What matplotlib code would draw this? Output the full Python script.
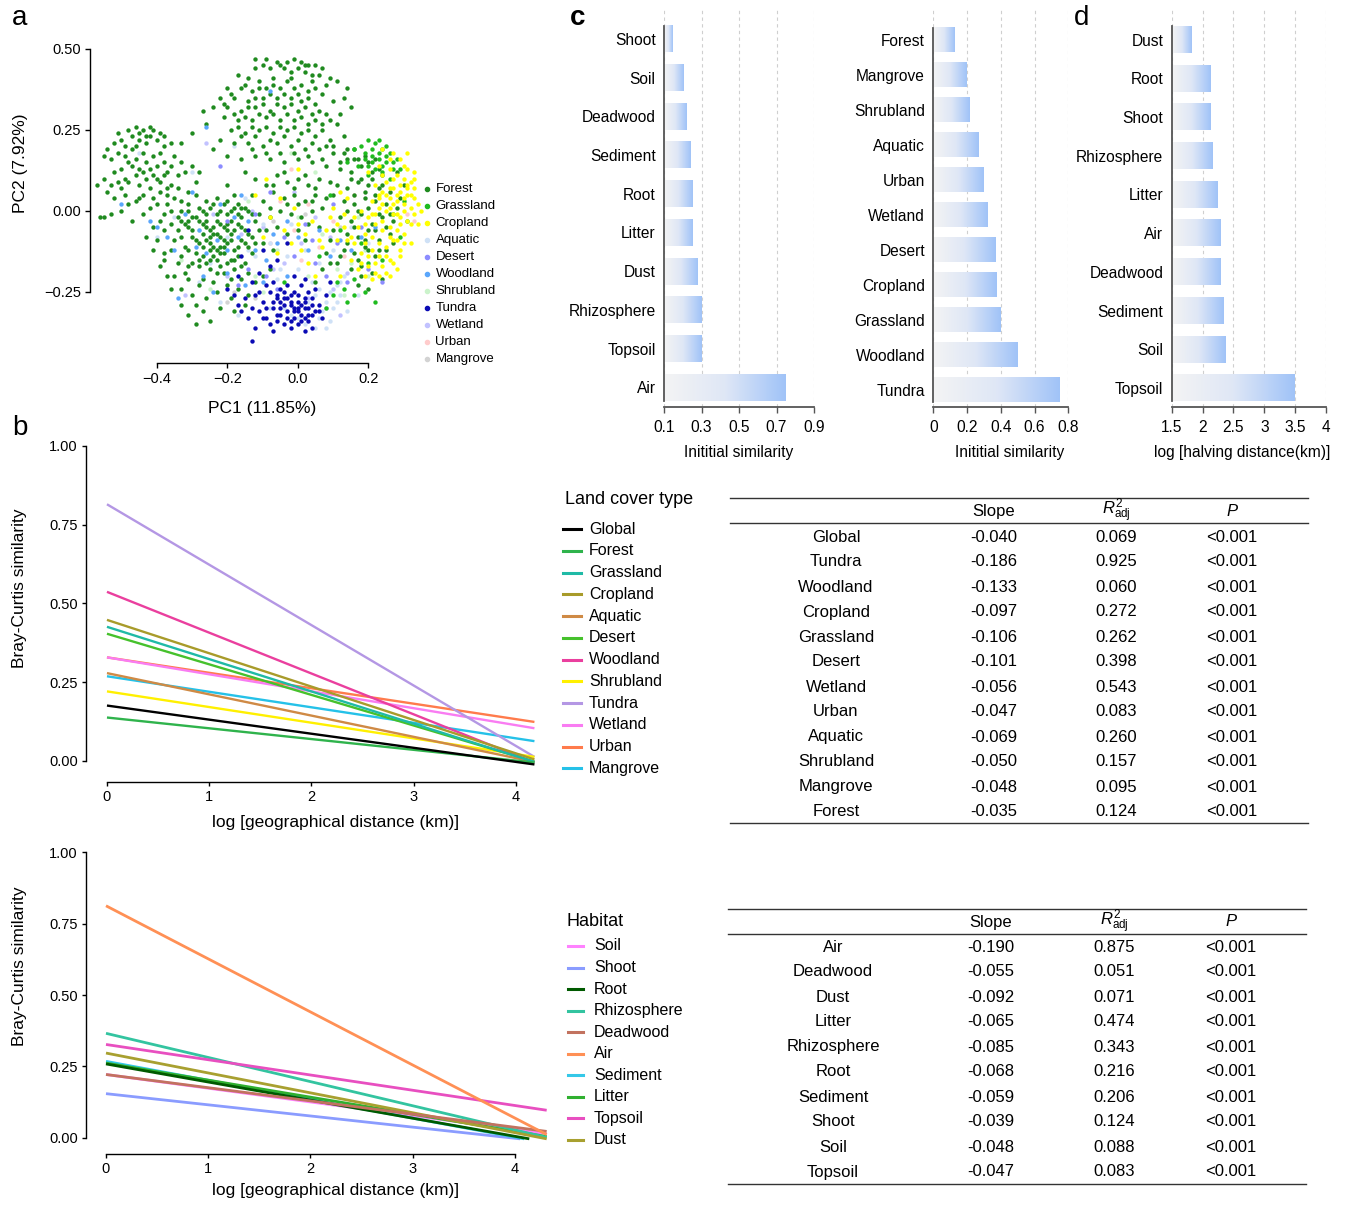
import matplotlib
matplotlib.use("Agg")
import matplotlib.pyplot as plt
import numpy as np
from matplotlib.colors import LinearSegmentedColormap
from matplotlib.lines import Line2D

plt.rcParams.update({
    "font.family": ["Liberation Sans", "DejaVu Sans"],
    "mathtext.fontset": "custom",
    "mathtext.rm": "Liberation Sans",
    "mathtext.it": "Liberation Sans:italic",
    "axes.linewidth": 1.0,
})

# ---------------------------------------------------------------- data
# a: PCoA scores (PC1, PC2) in hundredths, read off the cloud
FOREST_XY = """
-48 25 -46 26 -44 25 -42 26 -41 25 -50 22 -47 23 -52 21 -54 19 -55 17 -53 16 -51 18 -49 20 -45 22
-43 21 -40 22 -38 20 -36 21 -39 18 -35 17 -33 15 -32 12 -34 11 -36 14 -38 15 -41 17 -44 18 -46 16
-48 15 -50 13 -52 12 -55 10 -57 8 -54 6 -52 4 -50 7 -48 9 -46 11 -44 12 -42 13 -40 10 -38 11
-36 8 -34 7 -31 6 -29 9 -31 2 -33 3 -35 4 -37 5 -39 6 -42 7 -44 5 -46 3 -48 2 -50 0 -53 -1
-56 -2 -55 -2 -47 -3 -44 -1 -42 1 -40 2 -38 -1 -36 0 -34 -2 -43 -8 -41 -5 -49 10 -45 8 -43 15
-47 19 -40 14 -51 24 -39 24 -37 12 -30 14 -28 12 -42 23
-45 24 -43 23 -49 17 -47 14 -45 13 -41 11 -39 9 -37 7 -43 10 -51 9 -53 8 -49 5 -45 4 -41 4
-37 2 -33 0 -31 -3 -39 -3 -46 20 -38 23
-33 -3 -31 -5 -29 -2 -27 -4 -25 -6 -23 -3 -21 -5 -19 -7 -17 -4 -15 -6 -13 -8 -30 -8 -28 -10
-26 -9 -24 -11 -22 -8 -20 -10 -18 -12 -16 -9 -14 -11 -32 -11 -29 -13 -27 -14 -25 -12 -23 -15
-21 -13 -19 -15 -17 -14 -31 0 -28 1 -26 -1 -24 2 -22 0 -20 -1 -18 1 -16 -2 -14 0 -12 -3
-27 -7 -25 -8 -23 -7 -21 -9 -19 -3 -24 -5 -22 -11 -20 -6 -26 -3 -30 -2 -34 -6 -35 -9 -33 -14
-30 -16 -28 -17 -25 -18 -22 -17 -18 -18 -15 -16 -13 -13 -12 -10 -11 -6 -26 3 -23 4 -20 3 -17 2
-29 5 -25 -15 -21 -19 -32 -19 -36 -12 -38 -15 -27 -21 -24 -22 -20 -23 -16 -21
-32 -4 -30 -6 -28 -3 -26 -5 -24 -7 -22 -4 -20 -4 -18 -6 -16 -5 -14 -7 -29 -9 -27 -11 -25 -10
-23 -12 -21 -11 -19 -9 -17 -11 -15 -10 -31 -12 -28 -15 -26 -16 -24 -14 -22 -13 -20 -16 -18 -15
-16 -17 -27 0 -25 1 -23 -1 -21 2 -19 0 -17 -1 -15 1 -13 -1 -33 -8 -36 -4 -38 -6 -34 -16
-31 -17 -23 -19 -19 -21 -14 -19
-35 -20 -33 -24 -30 -26 -28 -23 -26 -27 -23 -25 -19 -27 -17 -24 -14 -26 -12 -22 -29 -29 -22 -30
-18 -31 -31 -21 -15 -29 -10 -20 -8 -18 -41 -12 -39 -17 -37 -20 -36 -24 -33 -29 -31 -32 -29 -35
-27 -31 -25 -34 -40 -9 -38 -13
-9 47 -6 46 -3 46 -1 47 1 46 3 45 5 45 7 44 -12 44 -8 44 -4 44 0 44 2 43 6 42 9 41 -17 42
-14 41 -11 40 -7 41 -2 41 4 40 8 39 -20 38 -16 38 -13 37 -9 38 -5 38 -1 38 3 37 7 36 -22 35
-18 35 -14 34 -10 35 -6 35 -2 35 1 34 5 33 10 34 -24 32 -20 32 -16 31 -12 32 -8 31 -4 32 0 31
4 30 8 30 -21 29 -17 28 -13 28 -9 29 -5 28 -1 28 3 27 7 27 11 27 -19 25 -15 24 -11 25 -7 24
-3 25 1 24 5 23 9 22 13 23 -22 22 -18 21 -14 21 -10 20 -6 21 -2 20 2 19 6 19 10 18 14 19
-26 27 -27 31 -24 19 -20 17 -16 16 -12 17 -8 16 -4 15 0 16 4 15 8 14 12 15 16 16 -30 24 -33 21
-12 47 14 38 12 30 13 35 15 32 11 40
-10 45 -5 45 -2 43 2 45 4 42 -15 39 -11 38 -7 39 -3 40 1 39 5 38 -19 36 -12 35 -8 36 -4 36
0 36 3 35 -21 33 -14 32 -10 33 -6 33 -2 33 2 32 6 31 -18 30 -15 29 -11 30 -7 30 -3 30 1 29
5 28 9 28 -17 26 -13 26 -9 26 -5 26 -1 26 3 25 7 25 -16 23 -12 23 -8 22 -4 23 0 22 4 21 8 20
-13 19 -9 18 -5 18 -1 18 3 17 7 16
-15 12 -12 10 -9 8 -6 11 -3 9 0 10 3 8 6 10 9 9 -13 5 -10 3 -7 6 -4 4 -1 5 2 3 5 5 8 4
-11 -1 -8 -2 -5 0 -2 -1 1 -2 4 0 7 1 -9 -6 -6 -5 -3 -7 0 -6 3 -4 6 -5 -20 8 -18 5 -16 1
-7 8 -4 12 -1 7 2 11 5 7 -8 1 -3 2 0 2 4 3 -10 -10 -7 -12 2 -9
10 20 13 18 16 19 19 17 22 16 12 13 15 12 18 14 21 12 24 11 11 8 14 7 17 9 20 8 23 7 26 6
13 3 16 2 19 4 22 3 25 2 28 1 12 -2 15 -3 18 -1 21 -4 24 -2 27 -3 14 -7 17 -8 20 -6 23 -9
26 -7 13 -12 16 -13 19 -11 22 -14 25 -12 11 -16 15 -18 18 -17 21 -19 9 -9 8 -13 10 5 27 -10
29 4 7 -18 5 -22 24 -21 20 -24 17 -23 30 8 28 12
14 16 17 16 20 15 23 13 15 10 18 10 21 10 24 8 16 5 19 6 22 5 14 0 17 0 20 1 23 -1 26 -1
16 -5 19 -9 22 -6 25 -5 14 -10 17 -15 20 -12 23 -12 12 -14 10 -6 9 -16 18 -20
"""
GRASSLAND_XY = """
18 20 20 22 22 21 24 19 26 18 21 17 23 16 25 15 19 16 27 15 22 13 24 12 20 11 17 14 28 16
16 19 25 20 23 22 14 15 29 13 26 10 12 -6 18 -10 27 -1 30 3 10 -26 13 -24 16 -26 19 -25 8 -30
14 -28 22 -28 11 -22 20 -16 16 -21 29 -8 6 -14 9 5 24 -15 31 -3 -4 -22
21 19 23 18 25 17 19 18 21 15 27 13 24 14 20 14
"""
CROPLAND_XY = """
20 12 23 14 26 13 28 11 30 10 32 9 25 9 27 7 29 6 31 5 33 4 22 8 24 6 26 4 28 3 30 2 32 1
34 2 21 3 23 1 25 0 27 -1 29 -2 31 -3 33 -1 18 0 20 -2 22 -4 24 -3 26 -5 28 -6 30 -7 17 -5
19 -7 21 -8 23 -10 25 -11 27 -9 29 -12 16 -10 18 -13 20 -14 22 -16 24 -17 26 -15 28 -18
15 -15 17 -18 19 -20 21 -21 23 -20 13 -1 11 -4 9 -2 14 4 12 6 10 1 8 -6 6 -9 4 -3 2 -7 0 -4
-2 -10 -4 -6 -6 -13 -8 -2 -10 -8 1 -12 3 -16 5 -20 7 -11 31 13 33 7 34 -4 32 -10 29 16 27 18
24 19 31 18 33 12 35 0 26 -20 12 -20 14 -9 16 -2 19 -4 21 -1 23 4 25 5 27 2 29 -4 31 8
-12 5 -9 10 -5 4 -1 1 0 13
24 11 27 10 29 8 31 7 23 5 26 7 28 5 30 4 32 5 24 2 26 1 28 -1 30 0 32 -4 22 -1 24 -6 26 -8
28 -9 30 -10 19 -10 21 -12 23 -14 25 -14 27 -16 20 -17 22 -19 18 -16 15 -8 13 -5 11 -9 25 -19
29 -14 33 10 30 14 26 16
"""
AQUATIC_XY = """
4 -22 6 -24 8 -28 10 -30 12 -26 6 -33 9 -34 11 -23 14 -31 3 -28 -2 -32 0 -33 5 -36 8 -36
13 -20 -5 -18 -8 -10 -3 -14 2 -12 6 -16 -12 -14 -20 -8 -25 -16 -28 -22 -35 -2 -40 -8 -15 4
-10 -4 0 -18 10 -12 15 -5 20 -10 -18 20 -30 12 -45 18 -22 -28 -17 -32 -8 -30 -6 -21 17 -26
25 -12 7 -31 9 -25 11 -28 5 -26 2 -35 -4 -30 12 -22 -14 -12 -2 -4
"""
DESERT_XY = """
-14 -18 -9 -20 -4 -8 -1 -14 2 -4 5 -16 8 -20 11 -10 14 -22 18 -5 -20 -3 -17 -23 -8 6 -12 -1
20 -18 24 -22 -22 14 4 -9 -6 -24 10 2
"""
WOODLAND_XY = """
-40 -5 -37 -8 -35 -12 -32 -1 -29 -11 -26 -13 -23 -9 -20 -12 -17 -8 -14 -3 -12 -12 -9 -15
-6 -10 -3 -3 0 -8 3 -12 6 -6 9 -14 12 -9 15 -12 -27 -20 -24 -25 -20 -19 -15 -23 -30 6 -22 2
-16 5 -50 2 -42 -3 -34 -27 -10 -22 -3 -20 18 -8 22 -5 -8 37 -26 26 -28 -6 -18 -2 -7 -7
"""
SHRUBLAND_XY = """
-18 -18 -12 -20 -6 -12 0 -2 3 -20 7 -7 11 -18 15 -16 19 -12 23 -14 -14 3 -2 18 5 12 20 -20
-25 -24 -10 -25 13 -26 -28 -6 17 -2 -33 -15
"""
TUNDRA_XY = """
-12 -26 -10 -28 -8 -25 -6 -27 -4 -29 -2 -26 0 -28 2 -30 4 -27 6 -29 -11 -31 -9 -33 -7 -30
-5 -32 -3 -31 -1 -33 1 -32 3 -34 5 -31 7 -33 -9 -23 -7 -22 -5 -24 -3 -23 -1 -25 1 -23 3 -25
5 -24 -4 -35 -2 -36 0 -35 2 -37 -6 -34 -1 -30 -3 -27 -5 -28 -13 -40 -14 -33 -15 -27 -13 -22
-11 -19 -8 -17 -6 -15 -10 -12 -3 -10 -14 -6 -16 -14 8 -26 9 -22 -20 -24 -17 -20 -7 -37 4 -36
-12 -36 2 -21 -1 -20 -17 -29 -16 -31 -18 -26 0 -30 2 -27 -2 -29 4 -32
-4 -27 -2 -28 0 -26 2 -28 4 -29 -3 -33 -1 -31 1 -34 3 -32 -7 -28 -9 -30 -5 -30 -6 -32 -8 -35
0 -31 2 -33 -2 -34 -10 -33 -11 -25 6 -31 -4 -25 -6 -26 1 -29 3 -30 -13 -30
"""
WETLAND_XY = """
-26 21 -20 -20 -10 -5 -4 -16 1 -10 5 -2 10 -24 14 -19 -13 0 -7 -18 8 -30 -16 -7 -32 -26
12 -32 -1 6 -24 -1 3 -27 9 -8
"""
URBAN_XY = "-8 -10 -5 3 -1 -6 3 2 6 -11 10 -3 13 -14 33 -3 31 -1 -2 13 16 5 1 -15"
MANGROVE_XY = "-18 -25 -12 -27 2 -1 -7 -3 12 -5 -20 -28"

PCA_GROUPS = ["Forest", "Grassland", "Cropland", "Aquatic", "Desert", "Woodland",
              "Shrubland", "Tundra", "Wetland", "Urban", "Mangrove"]
PCA_COLORS = ["#1f8a1f", "#1fbb1f", "#ffff00", "#cfe1f6", "#8c8cff", "#5aa6fb",
              "#cbf3cb", "#0a0ab4", "#c2c2ff", "#ffcccc", "#d3d3d3"]
PCA_XY = [FOREST_XY, GRASSLAND_XY, CROPLAND_XY, AQUATIC_XY, DESERT_XY, WOODLAND_XY,
          SHRUBLAND_XY, TUNDRA_XY, WETLAND_XY, URBAN_XY, MANGROVE_XY]
PCA_DRAW_ORDER = ["Mangrove", "Urban", "Wetland", "Shrubland", "Aquatic", "Forest",
                  "Woodland", "Desert", "Grassland", "Cropland", "Tundra"]

# b (top): distance-decay fits per land cover type
LC_NAMES = ["Global", "Forest", "Grassland", "Cropland", "Aquatic", "Desert", "Woodland",
            "Shrubland", "Tundra", "Wetland", "Urban", "Mangrove"]
LC_COLORS = ["#000000", "#2fb34c", "#1fbaa6", "#a89b2a", "#cf8a45", "#46c12c", "#ea3f9e",
             "#fff000", "#b497e4", "#f97cf2", "#ff7b4c", "#25c1e8"]
LC_START = [0.176, 0.138, 0.426, 0.448, 0.279, 0.404, 0.537, 0.221, 0.815, 0.329, 0.329, 0.269]
LC_END = [-0.011, -0.005, -0.003, 0.005, -0.003, -0.002, -0.005, 0.013, 0.013, 0.104, 0.124, 0.063]
LC_XEND = 4.18

# b (bottom): distance-decay fits per habitat
HAB_NAMES = ["Soil", "Shoot", "Root", "Rhizosphere", "Deadwood", "Air", "Sediment", "Litter",
             "Topsoil", "Dust"]
HAB_COLORS = ["#ff82ff", "#8a9cff", "#005a00", "#33c4a0", "#c2725f", "#ff9055", "#35c8e8",
              "#30b030", "#e84fc0", "#a8a030"]
HAB_START = [0.222, 0.155, 0.259, 0.366, 0.222, 0.812, 0.268, 0.262, 0.327, 0.297]
HAB_END = [0.015, -0.003, -0.003, 0.002, 0.023, 0.012, -0.003, 0.005, 0.097, -0.003]
HAB_XEND = [4.31, 4.05, 4.14, 4.31, 4.31, 4.31, 4.09, 4.31, 4.31, 4.31]
HAB_DRAW_ORDER = ["Soil", "Shoot", "Sediment", "Litter", "Rhizosphere", "Dust", "Root",
                  "Deadwood", "Topsoil", "Air"]

# c: initial similarity
HAB_BAR_NAMES = ["Shoot", "Soil", "Deadwood", "Sediment", "Root", "Litter", "Dust",
                 "Rhizosphere", "Topsoil", "Air"]
HAB_BAR_VALS = [0.146, 0.206, 0.222, 0.243, 0.254, 0.254, 0.280, 0.300, 0.300, 0.750]
LC_BAR_NAMES = ["Forest", "Mangrove", "Shrubland", "Aquatic", "Urban", "Wetland", "Desert",
                "Cropland", "Grassland", "Woodland", "Tundra"]
LC_BAR_VALS = [0.128, 0.199, 0.217, 0.270, 0.300, 0.324, 0.370, 0.376, 0.400, 0.500, 0.750]

# d: halving distance
HALF_NAMES = ["Dust", "Root", "Shoot", "Rhizosphere", "Litter", "Air", "Deadwood", "Sediment",
              "Soil", "Topsoil"]
HALF_VALS = [1.82, 2.13, 2.13, 2.16, 2.23, 2.29, 2.29, 2.34, 2.36, 3.48]

# tables
LC_TAB_ROWS = ["Global", "Tundra", "Woodland", "Cropland", "Grassland", "Desert", "Wetland",
               "Urban", "Aquatic", "Shrubland", "Mangrove", "Forest"]
LC_TAB_SLOPE = ["-0.040", "-0.186", "-0.133", "-0.097", "-0.106", "-0.101", "-0.056", "-0.047",
                "-0.069", "-0.050", "-0.048", "-0.035"]
LC_TAB_R2 = ["0.069", "0.925", "0.060", "0.272", "0.262", "0.398", "0.543", "0.083", "0.260",
             "0.157", "0.095", "0.124"]
HAB_TAB_ROWS = ["Air", "Deadwood", "Dust", "Litter", "Rhizosphere", "Root", "Sediment", "Shoot",
                "Soil", "Topsoil"]
HAB_TAB_SLOPE = ["-0.190", "-0.055", "-0.092", "-0.065", "-0.085", "-0.068", "-0.059", "-0.039",
                 "-0.048", "-0.047"]
HAB_TAB_R2 = ["0.875", "0.051", "0.071", "0.474", "0.343", "0.216", "0.206", "0.124", "0.088",
              "0.083"]
P_TEXT = "<0.001"

# ---------------------------------------------------------------- layout helpers
W, H = 1346, 1205
fig = plt.figure(figsize=(W / 100, H / 100), dpi=100)


def add_box(left, top, right, bottom):
    return fig.add_axes([left / W, 1 - bottom / H, (right - left) / W, (bottom - top) / H])


def ftext(x, y, s, **kw):
    kw.setdefault("va", "center")
    return fig.text(x / W, 1 - y / H, s, **kw)


def fline(x0, x1, y, **kw):
    fig.add_artist(Line2D([x0 / W, x1 / W], [1 - y / H, 1 - y / H], **kw))


def r_style(ax, xb, yb, xout=0, yout=0):
    for side in ("top", "right"):
        ax.spines[side].set_visible(False)
    ax.spines["left"].set_bounds(*yb)
    ax.spines["bottom"].set_bounds(*xb)
    ax.spines["left"].set_position(("outward", xout))
    ax.spines["bottom"].set_position(("outward", yout))


# ---------------------------------------------------------------- a: PCoA
ax_a = add_box(93.2, 49, 424.8, 347)
for name in PCA_DRAW_ORDER:
    k = PCA_GROUPS.index(name)
    xy = np.array(PCA_XY[k].split(), dtype=float).reshape(-1, 2) / 100
    ax_a.scatter(xy[:, 0], xy[:, 1], s=10, color=PCA_COLORS[k], linewidths=0)
ax_a.set_xlim(-0.58, 0.36)
ax_a.set_ylim(-0.42, 0.50)
r_style(ax_a, (-0.4, 0.2), (-0.25, 0.5), xout=2.2, yout=11.5)
ax_a.set_xticks([-0.4, -0.2, 0.0, 0.2], ["\u22120.4", "\u22120.2", "0.0", "0.2"], fontsize=10.5)
ax_a.set_yticks([-0.25, 0.0, 0.25, 0.5], ["\u22120.25", "0.00", "0.25", "0.50"], fontsize=10.5)
ax_a.tick_params(length=3.5, width=1, pad=3)
ftext(262, 408, "PC1 (11.85%)", ha="center", fontsize=12.5)
ftext(21, 163, "PC2 (7.92%)", ha="center", rotation=90, fontsize=12.5)
for i, (name, col) in enumerate(zip(PCA_GROUPS, PCA_COLORS)):
    y = 189.3 + 16.97 * i
    fig.add_artist(Line2D([426.5 / W], [1 - y / H], marker="o", ms=3, color=col, ls="none"))
    ftext(435.5, y, name, ha="left", fontsize=9.5)

# ---------------------------------------------------------------- b: decay lines
ax_b1 = add_box(86, 439.7, 541.6, 782)
for name in reversed(LC_NAMES):
    k = LC_NAMES.index(name)
    ax_b1.plot([0, LC_XEND], [LC_START[k], LC_END[k]], color=LC_COLORS[k], lw=1.7,
               solid_capstyle="butt")
ax_b1.set_xlim(-0.205, 4.25)
ax_b1.set_ylim(-0.0667, 1.02)

ax_b2 = add_box(86, 846.3, 547.7, 1154)
for name in HAB_DRAW_ORDER:
    k = HAB_NAMES.index(name)
    ax_b2.plot([0, HAB_XEND[k]], [HAB_START[k], HAB_END[k]], color=HAB_COLORS[k], lw=2.0,
               solid_capstyle="butt")
ax_b2.set_xlim(-0.1956, 4.32)
ax_b2.set_ylim(-0.056, 1.02)

for ax, ylab_y, xlab_y in ((ax_b1, 588, 822), (ax_b2, 966, 1191)):
    r_style(ax, (0, 4), (0, 1))
    ax.set_xticks([0, 1, 2, 3, 4], ["0", "1", "2", "3", "4"], fontsize=10.5)
    ax.set_yticks([0, 0.25, 0.5, 0.75, 1.0], ["0.00", "0.25", "0.50", "0.75", "1.00"],
                  fontsize=10.5)
    ax.tick_params(length=3, width=1, pad=3)
    ftext(20, ylab_y, "Bray-Curtis similarity", ha="center", rotation=90, fontsize=12.5)
    ftext(336, xlab_y, "log [geographical distance (km)]", ha="center", fontsize=12.5)

# legends for b
ftext(565, 499, "Land cover type", ha="left", fontsize=13)
for i, (name, col) in enumerate(zip(LC_NAMES, LC_COLORS)):
    y = 529 + 21.75 * i
    fline(563, 581, y, color=col, lw=2.2)
    ftext(589, y, name, ha="left", fontsize=11.5)

ftext(566, 921, "Habitat", ha="left", fontsize=13)
for i, (name, col) in enumerate(zip(HAB_NAMES, HAB_COLORS)):
    y = 946 + 21.55 * i
    fline(568, 583, y, color=col, lw=2.2)
    ftext(594, y, name, ha="left", fontsize=11.5)

# ---------------------------------------------------------------- tables
R2_HEAD = r"$R^{2}_{\mathrm{adj}}$"


def draw_table(x0, x1, y_top, y_head_line, y_bottom, y_head, y_row0, cols, rows, slopes, r2s):
    fline(x0, x1, y_top, color="#333333", lw=1.0)
    fline(x0, x1, y_head_line, color="#333333", lw=1.0)
    fline(x0, x1, y_bottom, color="#333333", lw=1.0)
    ftext(cols[1], y_head, "Slope", ha="center", fontsize=12)
    ftext(cols[2], y_head, R2_HEAD, ha="center", fontsize=12)
    ftext(cols[3], y_head, "P", ha="center", fontsize=12, fontstyle="italic")
    for i, (r, s, q) in enumerate(zip(rows, slopes, r2s)):
        y = y_row0 + 25 * i
        ftext(cols[0], y, r, ha="center", fontsize=12)
        ftext(cols[1], y, s, ha="center", fontsize=12)
        ftext(cols[2], y, q, ha="center", fontsize=12)
        ftext(cols[3], y, P_TEXT, ha="center", fontsize=12)


draw_table(730, 1308, 498, 523, 823, 511, 537, (836, 994, 1116, 1232),
           LC_TAB_ROWS, LC_TAB_SLOPE, LC_TAB_R2)
draw_table(728, 1306, 909, 934, 1184, 922, 947, (833, 991, 1114, 1231),
           HAB_TAB_ROWS, HAB_TAB_SLOPE, HAB_TAB_R2)

# ---------------------------------------------------------------- c, d: gradient bars
BAR_CMAP = LinearSegmentedColormap.from_list("barfade", ["#f4f4f4", "#dfe7f6", "#a0c3f8"])
GRAD = np.linspace(0, 1, 256).reshape(1, -1)
BAR_H = 0.69


def bar_panel(box, names, vals, base, xlim, ylim, ticks, ticklabels, xlabel, xlabel_x):
    ax = add_box(*box)
    for i, v in enumerate(vals):
        ax.imshow(GRAD, extent=[base, v, i - BAR_H / 2, i + BAR_H / 2], cmap=BAR_CMAP,
                  aspect="auto", interpolation="bilinear", zorder=3)
    ax.set_xlim(*xlim)
    ax.set_ylim(*ylim)
    ax.set_aspect("auto")
    ax.grid(axis="x", color="#cfcfcf", lw=0.8, ls=(0, (3, 3)), zorder=0)
    ax.set_axisbelow(True)
    for side in ("top", "right"):
        ax.spines[side].set_visible(False)
    ax.spines["left"].set_bounds(-BAR_H / 2, len(vals) - 1 + BAR_H / 2)
    ax.spines["left"].set_color("#555555")
    ax.spines["left"].set_linewidth(1.3)
    ax.spines["left"].set_zorder(4)
    ax.spines["bottom"].set_color("#555555")
    ax.spines["bottom"].set_linewidth(1.3)
    ax.set_yticks(range(len(names)), names, fontsize=11.2)
    ax.set_xticks(ticks, ticklabels, fontsize=11.2)
    ax.tick_params(axis="y", length=0, pad=6)
    ax.tick_params(axis="x", length=4, width=1, color="#555555", pad=5)
    ftext(xlabel_x, 452, xlabel, ha="center", fontsize=11.2)
    return ax


bar_panel((664, 8, 814, 407), HAB_BAR_NAMES, HAB_BAR_VALS, 0.1, (0.1, 0.9), (9.51, -0.80),
          [0.1, 0.3, 0.5, 0.7, 0.9], ["0.1", "0.3", "0.5", "0.7", "0.9"],
          "Inititial similarity", 739)
bar_panel((933.3, 8, 1068.3, 407), LC_BAR_NAMES, LC_BAR_VALS, 0.0, (0.0, 0.8), (10.486, -0.914),
          [0, 0.2, 0.4, 0.6, 0.8], ["0", "0.2", "0.4", "0.6", "0.8"],
          "Inititial similarity", 1010)
bar_panel((1171.7, 8, 1326, 407), HALF_NAMES, HALF_VALS, 1.5, (1.5, 4.0), (9.49, -0.8135),
          [1.5, 2, 2.5, 3, 3.5, 4], ["1.5", "2", "2.5", "3", "3.5", "4"],
          "log [halving distance(km)]", 1242)

# ---------------------------------------------------------------- panel letters
ftext(20, 18, "a", ha="center", fontsize=20)
ftext(20, 428, "b", ha="center", fontsize=20)
ftext(578, 18, "c", ha="center", fontsize=20, fontweight="bold")
ftext(1082, 18, "d", ha="center", fontsize=20)

fig.savefig("out.png", dpi=100, facecolor="white")
